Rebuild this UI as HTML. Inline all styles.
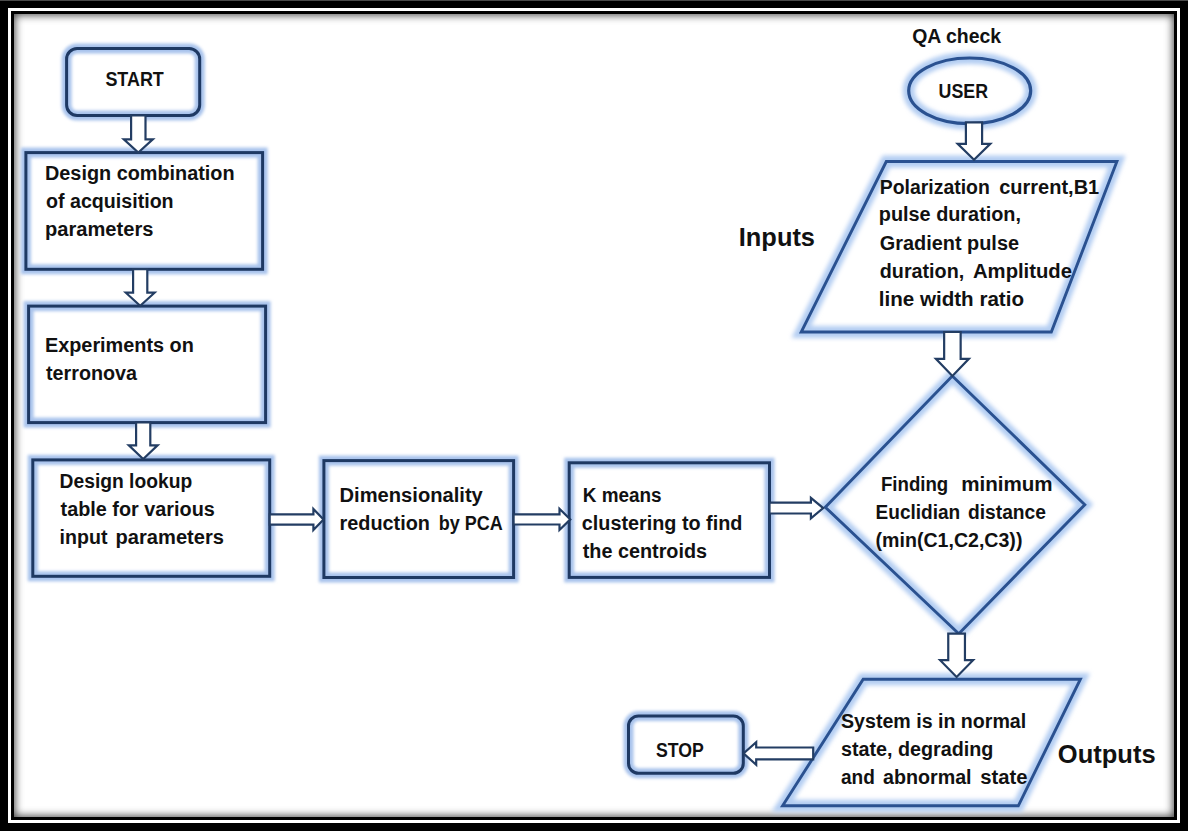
<!DOCTYPE html>
<html><head><meta charset="utf-8"><style>
html,body{margin:0;padding:0;width:1188px;height:831px;overflow:hidden;background:#000;}
#frame{position:absolute;left:8px;top:8px;width:1172px;height:815px;background:#fff;}
#inner{position:absolute;left:11px;top:11px;width:1166px;height:809px;background:#000;}
#content{position:absolute;left:14px;top:14px;width:1160px;height:803px;background:#fff;box-shadow:inset 0 0 9px 1px rgba(0,0,0,0.75);}
svg{position:absolute;left:0;top:0;}
#toprow{position:absolute;left:0;top:0;width:1188px;height:1px;background:#4b4b4b;}
text{font-family:"Liberation Sans",sans-serif;font-weight:bold;fill:#111;}
</style></head><body>
<div id="frame"></div><div id="inner"></div><div id="content"></div><div id="toprow"></div>
<svg width="1188" height="831" viewBox="0 0 1188 831">
<defs><filter id="blur" x="-20%" y="-20%" width="140%" height="140%"><feGaussianBlur stdDeviation="1.6"/></filter><filter id="blur2" x="-20%" y="-20%" width="140%" height="140%"><feGaussianBlur stdDeviation="2.2"/></filter></defs>
<rect x="66.6" y="48.5" width="133.1" height="67.0" rx="10.5" fill="none" stroke="#a8c3ec" stroke-width="10" filter="url(#blur)"/><rect x="66.6" y="48.5" width="133.1" height="67.0" rx="10.5" fill="none" stroke="#1e3963" stroke-width="3"/><rect x="25.9" y="152.6" width="236.70000000000002" height="116.70000000000002" rx="0" fill="none" stroke="#a8c3ec" stroke-width="10" filter="url(#blur)"/><rect x="25.9" y="152.6" width="236.70000000000002" height="116.70000000000002" rx="0" fill="none" stroke="#1e3963" stroke-width="3"/><rect x="28.6" y="306.1" width="237.00000000000003" height="116.5" rx="0" fill="none" stroke="#a8c3ec" stroke-width="10" filter="url(#blur)"/><rect x="28.6" y="306.1" width="237.00000000000003" height="116.5" rx="0" fill="none" stroke="#1e3963" stroke-width="3"/><rect x="32.8" y="459.9" width="236.89999999999998" height="116.39999999999998" rx="0" fill="none" stroke="#a8c3ec" stroke-width="10" filter="url(#blur)"/><rect x="32.8" y="459.9" width="236.89999999999998" height="116.39999999999998" rx="0" fill="none" stroke="#1e3963" stroke-width="3"/><rect x="323.9" y="460.6" width="189.70000000000005" height="116.89999999999998" rx="0" fill="none" stroke="#a8c3ec" stroke-width="10" filter="url(#blur)"/><rect x="323.9" y="460.6" width="189.70000000000005" height="116.89999999999998" rx="0" fill="none" stroke="#1e3963" stroke-width="3"/><rect x="569.2" y="462.8" width="200.29999999999995" height="114.59999999999997" rx="0" fill="none" stroke="#a8c3ec" stroke-width="10" filter="url(#blur)"/><rect x="569.2" y="462.8" width="200.29999999999995" height="114.59999999999997" rx="0" fill="none" stroke="#1e3963" stroke-width="3"/><rect x="628.5" y="716" width="114.79999999999995" height="57.299999999999955" rx="10" fill="none" stroke="#a8c3ec" stroke-width="10" filter="url(#blur)"/><rect x="628.5" y="716" width="114.79999999999995" height="57.299999999999955" rx="10" fill="none" stroke="#1e3963" stroke-width="3"/><ellipse cx="969.7" cy="90.85" rx="61" ry="32.85" fill="none" stroke="#b3cdf2" stroke-width="12" filter="url(#blur2)"/><ellipse cx="969.7" cy="90.85" rx="61" ry="32.85" fill="none" stroke="#2a5190" stroke-width="3.2"/><polygon points="886.3,161.5 1116.9,161.5 1051.3,332 801.2,332" fill="none" stroke="#b3cdf2" stroke-width="12" filter="url(#blur2)" stroke-linejoin="miter"/><polygon points="886.3,161.5 1116.9,161.5 1051.3,332 801.2,332" fill="none" stroke="#2a5190" stroke-width="2.9" stroke-linejoin="miter"/><polygon points="863.2,679.2 1080.4,679.2 1018.3,805.8 782.6,805.8" fill="none" stroke="#b3cdf2" stroke-width="12" filter="url(#blur2)" stroke-linejoin="miter"/><polygon points="863.2,679.2 1080.4,679.2 1018.3,805.8 782.6,805.8" fill="none" stroke="#2a5190" stroke-width="2.9" stroke-linejoin="miter"/><polygon points="952.3,376 1084.8,504.7 958.8,633.7 825.3,507.2" fill="none" stroke="#b3cdf2" stroke-width="12" filter="url(#blur2)" stroke-linejoin="miter"/><polygon points="952.3,376 1084.8,504.7 958.8,633.7 825.3,507.2" fill="none" stroke="#2a5190" stroke-width="2.9" stroke-linejoin="miter"/>
<path d="M131.10000000000002,115.5 L145.5,115.5 L145.5,139.3 L152.8,139.3 L138.3,152.5 L123.80000000000001,139.3 L131.10000000000002,139.3 Z" fill="#fff" stroke="#233d63" stroke-width="2.2" stroke-linejoin="miter"/><path d="M133.1,269.1 L147.29999999999998,269.1 L147.29999999999998,292.7 L154.6,292.7 L140.2,305.8 L125.79999999999998,292.7 L133.1,292.7 Z" fill="#fff" stroke="#233d63" stroke-width="2.2" stroke-linejoin="miter"/><path d="M136.1,422.4 L150.29999999999998,422.4 L150.29999999999998,445.3 L157.6,445.3 L143.2,459.1 L128.79999999999998,445.3 L136.1,445.3 Z" fill="#fff" stroke="#233d63" stroke-width="2.2" stroke-linejoin="miter"/><path d="M965.9,122.3 L982.1,122.3 L982.1,143.9 L990.3,143.9 L974,159.8 L957.7,143.9 L965.9,143.9 Z" fill="#fff" stroke="#233d63" stroke-width="2.2" stroke-linejoin="miter"/><path d="M944.15,332 L960.65,332 L960.65,358.8 L968.9,358.8 L952.4,376 L935.9,358.8 L944.15,358.8 Z" fill="#fff" stroke="#233d63" stroke-width="2.2" stroke-linejoin="miter"/><path d="M948.25,633.7 L964.95,633.7 L964.95,660.2 L973.1,660.2 L956.6,677 L940.1,660.2 L948.25,660.2 Z" fill="#fff" stroke="#233d63" stroke-width="2.2" stroke-linejoin="miter"/><path d="M269.7,514.4 L313.4,514.4 L313.4,508.9 L323.5,519.5 L313.4,530.1 L313.4,524.6 L269.7,524.6 Z" fill="#fff" stroke="#233d63" stroke-width="2.2" stroke-linejoin="miter"/><path d="M513.6,514.3 L559.5,514.3 L559.5,508.79999999999995 L570.3,519.4 L559.5,530.0 L559.5,524.5 L513.6,524.5 Z" fill="#fff" stroke="#233d63" stroke-width="2.2" stroke-linejoin="miter"/><path d="M769.5,502.70000000000005 L810.9,502.70000000000005 L810.9,497.90000000000003 L823.2,508.1 L810.9,518.3000000000001 L810.9,513.5 L769.5,513.5 Z" fill="#fff" stroke="#233d63" stroke-width="2.2" stroke-linejoin="miter"/><path d="M813.2,747.5 L756.2,747.5 L756.2,742.1 L743.5,753.4 L756.2,764.6999999999999 L756.2,759.3 L813.2,759.3 Z" fill="#fff" stroke="#233d63" stroke-width="2.2" stroke-linejoin="miter"/>
<text x="105.38" y="85.9" textLength="58.41" lengthAdjust="spacingAndGlyphs" font-size="20">START</text><text x="44.99" y="180.3" textLength="189.61" lengthAdjust="spacingAndGlyphs" font-size="20">Design combination</text><text x="46.0" y="208.1" textLength="127.61" lengthAdjust="spacingAndGlyphs" font-size="20">of acquisition</text><text x="44.99" y="236" textLength="108.41" lengthAdjust="spacingAndGlyphs" font-size="20">parameters</text><text x="44.99" y="351.9" textLength="148.81" lengthAdjust="spacingAndGlyphs" font-size="20">Experiments on</text><text x="46.0" y="379.8" textLength="91.01" lengthAdjust="spacingAndGlyphs" font-size="20">terronova</text><text x="59.6" y="488.2" textLength="132.61" lengthAdjust="spacingAndGlyphs" font-size="20">Design lookup</text><text x="60.6" y="515.9" textLength="154.21" lengthAdjust="spacingAndGlyphs" font-size="20">table for various</text><text x="59.58" y="544.2" textLength="47.83" lengthAdjust="spacingAndGlyphs" font-size="20">input</text><text x="115.59" y="544.2" textLength="108.42" lengthAdjust="spacingAndGlyphs" font-size="20">parameters</text><text x="339.59" y="502.2" textLength="143.21" lengthAdjust="spacingAndGlyphs" font-size="20">Dimensionality</text><text x="339.59" y="530.2" textLength="90.41" lengthAdjust="spacingAndGlyphs" font-size="20">reduction</text><text x="438.79" y="530.2" textLength="64.02" lengthAdjust="spacingAndGlyphs" font-size="20">by PCA</text><text x="582.8" y="502.1" textLength="78.8" lengthAdjust="spacingAndGlyphs" font-size="20">K means</text><text x="581.8" y="530.2" textLength="160.6" lengthAdjust="spacingAndGlyphs" font-size="20">clustering to find</text><text x="582.79" y="558.4" textLength="124.21" lengthAdjust="spacingAndGlyphs" font-size="20">the centroids</text><text x="881.0" y="491.1" textLength="67.21" lengthAdjust="spacingAndGlyphs" font-size="20">Finding</text><text x="961.2" y="491.1" textLength="91.42" lengthAdjust="spacingAndGlyphs" font-size="20">minimum</text><text x="875.6" y="519.1" textLength="84.61" lengthAdjust="spacingAndGlyphs" font-size="20">Euclidian</text><text x="967.99" y="519.1" textLength="78.01" lengthAdjust="spacingAndGlyphs" font-size="20">distance</text><text x="875.6" y="547.3" textLength="146.81" lengthAdjust="spacingAndGlyphs" font-size="20">(min(C1,C2,C3))</text><text x="912.2" y="42.5" textLength="89.0" lengthAdjust="spacingAndGlyphs" font-size="20">QA check</text><text x="938.58" y="97.8" textLength="49.42" lengthAdjust="spacingAndGlyphs" font-size="20">USER</text><text x="879.8" y="193.6" textLength="110.0" lengthAdjust="spacingAndGlyphs" font-size="20">Polarization</text><text x="999.19" y="193.6" textLength="100.01" lengthAdjust="spacingAndGlyphs" font-size="20">current,B1</text><text x="878.8" y="221.3" textLength="142.21" lengthAdjust="spacingAndGlyphs" font-size="20">pulse duration,</text><text x="879.8" y="249.8" textLength="139.2" lengthAdjust="spacingAndGlyphs" font-size="20">Gradient pulse</text><text x="879.79" y="277.6" textLength="84.41" lengthAdjust="spacingAndGlyphs" font-size="20">duration,</text><text x="973.0" y="277.6" textLength="99.0" lengthAdjust="spacingAndGlyphs" font-size="20">Amplitude</text><text x="878.79" y="305.9" textLength="145.21" lengthAdjust="spacingAndGlyphs" font-size="20">line width ratio</text><text x="738.79" y="245.9" textLength="76.22" lengthAdjust="spacingAndGlyphs" font-size="26">Inputs</text><text x="841.0" y="728.3" textLength="185.21" lengthAdjust="spacingAndGlyphs" font-size="20">System is in normal</text><text x="841.0" y="755.9" textLength="152.41" lengthAdjust="spacingAndGlyphs" font-size="20">state, degrading</text><text x="840.98" y="783.5" textLength="33.84" lengthAdjust="spacingAndGlyphs" font-size="20">and</text><text x="883.0" y="783.5" textLength="88.6" lengthAdjust="spacingAndGlyphs" font-size="20">abnormal</text><text x="980.19" y="783.5" textLength="47.21" lengthAdjust="spacingAndGlyphs" font-size="20">state</text><text x="656.0" y="756.5" textLength="47.81" lengthAdjust="spacingAndGlyphs" font-size="20">STOP</text><text x="1057.79" y="763" textLength="97.81" lengthAdjust="spacingAndGlyphs" font-size="26">Outputs</text>
</svg>
</body></html>
